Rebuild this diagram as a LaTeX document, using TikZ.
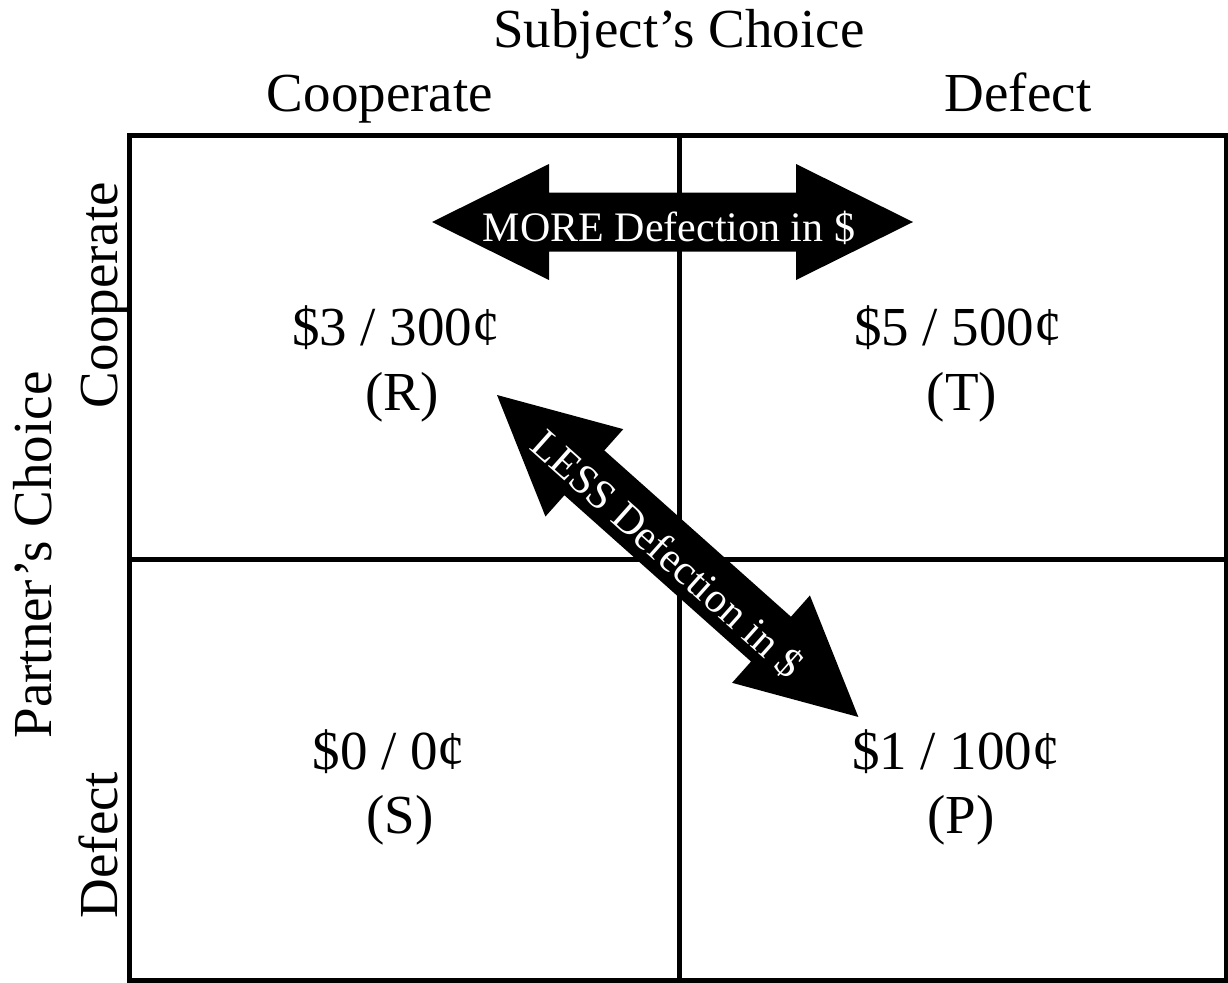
\documentclass[tikz,border=0pt]{standalone}
\usepackage{fontspec}
\setmainfont{Liberation Serif}
\begin{document}
\begin{tikzpicture}[x=1pt,y=-1pt,
  lab/.style={font=\fontsize{55}{66}\selectfont, inner sep=0pt, anchor=base},
  vlab/.style={lab, rotate=90},
  arrowtext/.style={font=\fontsize{42}{50}\selectfont, text=white, inner sep=0pt, anchor=base},
  gridline/.style={line width=5pt, line cap=rect}]
\useasboundingbox (0,0) rectangle (1228,982);
% grid
\draw[gridline] (129.5,135.5) rectangle (1226,980.5);
\draw[gridline] (679.5,135.5) -- (679.5,980.5);
\draw[gridline] (129.5,559) -- (1226,559);
% headings
\node[lab] (subj) at (679,48) {Subject’s Choice};
\node[lab] (cc) at (380,111) {Cooperate};
\node[lab] (cd) at (1018,111) {Defect};
\node[vlab] (part) at (51,555) {Partner’s Choice};
\node[vlab] (rc) at (117,295) {Cooperate};
\node[vlab] (rd) at (117,845) {Defect};
% payoffs
\node[lab] (r1) at (396,345) {\$3 / 300¢};
\node[lab] (r2) at (402,410) {(R)};
\node[lab] (t1) at (958,345) {\$5 / 500¢};
\node[lab] (t2) at (962,410) {(T)};
\node[lab] (s1) at (389,769) {\$0 / 0¢};
\node[lab] (s2) at (400,833) {(S)};
\node[lab] (p1) at (956,769) {\$1 / 100¢};
\node[lab] (p2) at (961,833) {(P)};
% horizontal double arrow
\begin{scope}[shift={(432,222)}]
  \fill (0,0) -- (117,-58) -- (117,-29.5) -- (364,-29.5) -- (364,-58) -- (481,0)
        -- (364,58) -- (364,29.5) -- (117,29.5) -- (117,58) -- cycle;
  \node[arrowtext] (more) at (237,19) {MORE Defection in \$};
\end{scope}
% diagonal double arrow
\begin{scope}[shift={(497,395)}, rotate=-41.7]
  \fill (0,0) -- (117,-58.5) -- (117,-30) -- (367,-30) -- (367,-58.5) -- (484,0)
        -- (367,58.5) -- (367,30) -- (117,30) -- (117,58.5) -- cycle;
  \node[arrowtext, rotate=-41.7] (less) at (233,19) {LESS Defection in \$};
\end{scope}
\end{tikzpicture}
\end{document}
